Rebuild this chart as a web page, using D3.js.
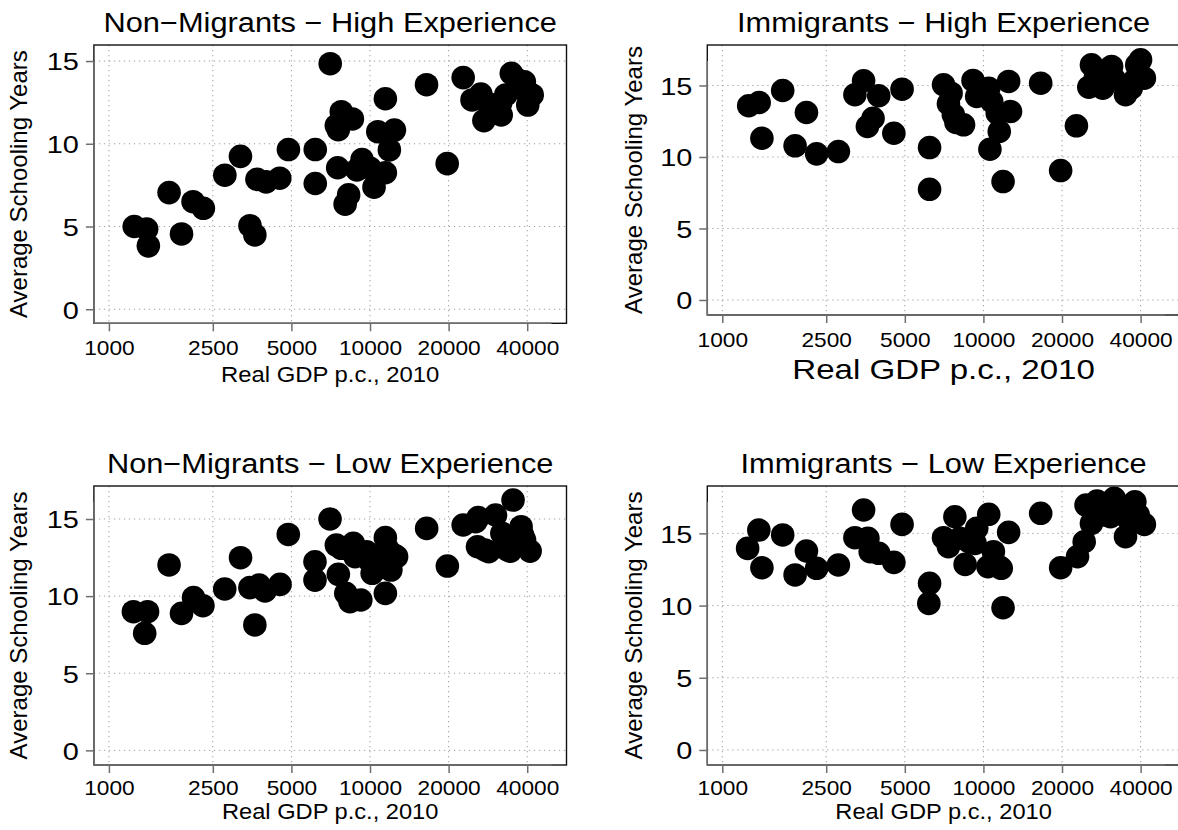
<!DOCTYPE html>
<html><head><meta charset="utf-8">
<script src="https://cdn.jsdelivr.net/npm/d3@7"></script>
<style>
body{margin:0;background:#fff}
svg{display:block}
text{font-family:"Liberation Sans",Arial,Helvetica,sans-serif;fill:#000}
</style>
</head><body>
<svg id="chart" width="1178" height="830"></svg>
<script>
// ---------- data ----------
const panelTitles = [
  "Non\u2212Migrants \u2212 High Experience",
  "Immigrants \u2212 High Experience",
  "Non\u2212Migrants \u2212 Low Experience",
  "Immigrants \u2212 Low Experience"
];
const xTickValues = [1000, 2500, 5000, 10000, 20000, 40000];
const xTickLabels = ["1000", "2500", "5000", "10000", "20000", "40000"];
const yTickValues = [0, 5, 10, 15];
const yTickLabels = ["0", "5", "10", "15"];
const xAxisTitle = "Real GDP p.c., 2010";
const yAxisTitle = "Average Schooling Years";

const nonMigHighGdp = [1250,1395,1416,1700,1897,2100,2300,2780,3190,3470,3622,3690,4000,4510,4870,6170,6170,7040,7430,7560,7520,7762,8030,8280,8560,8910,9320,10020,10360,10710,11450,11450,11860,12400,16460,19750,22740,24580,26580,27300,28500,31800,31620,33100,34770,36500,38400,39000,40200,41800];
const nonMigHighYears = [5.0,4.85,3.83,7.05,4.55,6.5,6.1,8.1,9.24,5.05,4.49,7.85,7.7,7.92,9.65,9.65,7.6,14.84,11.1,10.85,8.55,11.94,6.35,6.91,11.5,8.42,9.04,8.52,7.38,10.73,12.72,8.25,9.63,10.83,13.57,8.8,14.0,12.65,13.0,11.4,12.4,11.74,12.45,12.95,14.26,13.9,13.3,13.75,12.34,12.95];

const immHighGdp = [1262,1384,1418,1703,1900,2100,2297,2783,3220,3476,3595,3778,3972,4539,4880,6220,6220,7035,7346,7517,7672,7850,8393,9125,9427,10480,10760,10590,11300,11500,11890,12490,12700,16570,19760,22710,25340,25930,26830,28660,30960,31690,35010,36800,38660,39990,41340,38020];
const immHighYears = [13.58,13.81,11.31,14.65,10.78,13.11,10.22,10.38,14.35,15.33,12.13,12.71,14.28,11.66,14.74,10.66,7.74,15.05,13.72,14.46,12.95,12.41,12.25,15.35,14.23,14.81,13.88,10.54,13.06,11.78,8.28,15.28,13.18,15.16,9.05,12.18,14.88,16.44,15.51,14.81,16.33,15.44,14.35,14.81,16.44,16.79,15.51,15.4];

const nonMigLowGdp = [1241,1406,1371,1700,1897,2109,2291,2777,3192,3468,3622,3762,3961,4523,4864,6155,6155,7028,7431,7563,7762,8078,8380,8630,8765,9220,9700,10020,10190,10530,10710,11450,11450,11640,12020,12360,12640,16480,19780,22740,25960,25380,25800,27550,28500,30250,31990,33600,34500,35300,37900,39060,41040,38390];
const nonMigLowYears = [8.99,8.99,7.59,12.02,8.88,9.90,9.38,10.46,12.49,10.55,8.13,10.72,10.33,10.76,14.0,12.23,11.04,15.0,13.31,11.41,13.1,10.18,9.64,13.42,12.56,9.75,12.88,12.23,11.48,12.45,11.8,13.79,10.18,13.1,11.69,12.66,12.56,14.39,11.95,14.61,15.09,14.83,13.2,12.99,12.88,15.26,14.07,12.99,12.92,16.23,14.5,13.64,12.92,13.96];

const immLowGdp = [1250,1380,1418,1703,1900,2100,2297,2783,3220,3476,3611,3684,3972,4539,4880,6220,6180,7035,7346,7775,8120,8510,8800,9427,9290,10480,10410,10920,11500,11700,11890,12490,16570,19760,22930,24320,24720,25930,27230,26830,29120,31690,30660,35010,35700,38020,39210,41340,34440];
const immLowYears = [13.96,15.23,12.62,14.89,12.12,13.78,12.58,12.81,14.7,16.62,14.66,13.73,13.62,12.99,15.62,11.54,10.15,14.7,14.08,16.15,14.66,12.85,14.42,15.35,14.31,16.32,12.69,13.73,12.69,12.58,9.85,15.07,16.39,12.62,13.39,14.42,16.96,15.69,17.24,16.5,16.27,17.42,16.15,14.77,16.04,17.19,16.27,15.62,16.5];

// ---------- layout ----------
const xDomain = [876, 56560];
const layout = [
  {gdp: nonMigHighGdp, yrs: nonMigHighYears, left: 93.9, right: 566.5, top: 45, bottom: 323.3, yDom: [-0.85, 15.97], titleY: 31.5, tickY: 355, xtY: 381.5, xtSize: 22.5, xtStretch: 1.06, ylabX: 27},
  {gdp: immHighGdp, yrs: immHighYears, left: 707.3, right: 1179.9, top: 45, bottom: 315, yDom: [-1.05, 17.83], titleY: 31.5, tickY: 346.7, xtY: 378.5, xtSize: 28.5, xtStretch: 1.16, ylabX: 642},
  {gdp: nonMigLowGdp, yrs: nonMigLowYears, left: 93.9, right: 566.5, top: 486, bottom: 765, yDom: [-0.95, 17.14], titleY: 473.3, tickY: 795, xtY: 819, xtSize: 21.5, xtStretch: 1.1, ylabX: 27},
  {gdp: immLowGdp, yrs: immLowYears, left: 707.3, right: 1179.9, top: 486, bottom: 765, yDom: [-1.04, 18.28], titleY: 473.3, tickY: 795, xtY: 819, xtSize: 21.5, xtStretch: 1.1, ylabX: 642}
];

const svg = d3.select("#chart");
const axisGray = "#6e6e6e";

// widen a text horizontally (reference glyphs are broader than Liberation Sans)
function stretch(sel, f) {
  sel.each(function () {
    const w = this.getComputedTextLength();
    d3.select(this).attr("textLength", w * f).attr("lengthAdjust", "spacingAndGlyphs");
  });
}

layout.forEach((p, i) => {
  const x = d3.scaleLog().domain(xDomain).range([p.left, p.right]);
  const y = d3.scaleLinear().domain(p.yDom).range([p.bottom, p.top]);
  const g = svg.append("g");
  const cx = (p.left + p.right) / 2;
  const cy = (p.top + p.bottom) / 2;

  // grid
  g.append("g").selectAll("line").data(xTickValues).join("line")
    .attr("x1", d => x(d)).attr("x2", d => x(d))
    .attr("y1", p.top).attr("y2", p.bottom)
    .attr("stroke", "#a0a0a0").attr("stroke-width", 1).attr("stroke-dasharray", "1.3,3.7");
  g.append("g").selectAll("line").data(yTickValues).join("line")
    .attr("y1", d => y(d)).attr("y2", d => y(d))
    .attr("x1", p.left).attr("x2", p.right)
    .attr("stroke", "#a0a0a0").attr("stroke-width", 1).attr("stroke-dasharray", "1.3,3.7");

  // points
  const pts = p.gdp.map((v, k) => [v, p.yrs[k]]);
  g.append("g").selectAll("circle").data(pts).join("circle")
    .attr("cx", d => x(d[0])).attr("cy", d => y(d[1]))
    .attr("r", 11.8).attr("fill", "#000");

  // box
  g.append("rect").attr("x", p.left).attr("y", p.top)
    .attr("width", p.right - p.left).attr("height", p.bottom - p.top)
    .attr("fill", "none").attr("stroke", "#111").attr("stroke-width", 1.4);

  // gray axis lines (overlay)
  g.append("line").attr("x1", p.left).attr("x2", p.left)
    .attr("y1", p.bottom).attr("y2", p.top + 16)
    .attr("stroke", axisGray).attr("stroke-width", 1.5);
  g.append("line").attr("x1", p.left).attr("x2", p.right - 15)
    .attr("y1", p.bottom).attr("y2", p.bottom)
    .attr("stroke", axisGray).attr("stroke-width", 1.5);

  // y axis
  const yAxis = d3.axisLeft(y).tickValues(yTickValues).tickSize(8).tickPadding(7)
    .tickFormat((d, k) => yTickLabels[k]);
  const ya = g.append("g").attr("transform", `translate(${p.left},0)`).call(yAxis);
  ya.select(".domain").remove();
  ya.selectAll(".tick line").attr("stroke", axisGray).attr("stroke-width", 1.5);
  const yt = ya.selectAll(".tick text").attr("font-size", 24.5).attr("fill", "#000")
    .attr("font-family", "'Liberation Sans', Arial, sans-serif").attr("dy", "0.36em");
  stretch(yt, 1.18);

  // x axis
  const xAxis = d3.axisBottom(x).tickValues(xTickValues).tickSize(8)
    .tickFormat((d, k) => xTickLabels[k]);
  const xa = g.append("g").attr("transform", `translate(0,${p.bottom})`).call(xAxis);
  xa.select(".domain").remove();
  xa.selectAll(".tick line").attr("stroke", axisGray).attr("stroke-width", 1.5);
  const xt = xa.selectAll(".tick text").attr("font-size", 21).attr("fill", "#000")
    .attr("font-family", "'Liberation Sans', Arial, sans-serif")
    .attr("y", null).attr("dy", null)
    .attr("transform", `translate(0,${p.tickY - p.bottom})`);
  stretch(xt, 1.08);

  // title
  const t = g.append("text").attr("x", cx).attr("y", p.titleY).attr("text-anchor", "middle")
    .attr("font-size", 27).text(panelTitles[i]);
  stretch(t, 1.14);

  // x title
  const xtt = g.append("text").attr("x", cx).attr("y", p.xtY).attr("text-anchor", "middle")
    .attr("font-size", p.xtSize).text(xAxisTitle);
  stretch(xtt, p.xtStretch);

  // y title
  g.append("text").attr("transform", `translate(${p.ylabX},${cy}) rotate(-90)`)
    .attr("text-anchor", "middle").attr("font-size", 24).text(yAxisTitle);
});
</script>
</body></html>
